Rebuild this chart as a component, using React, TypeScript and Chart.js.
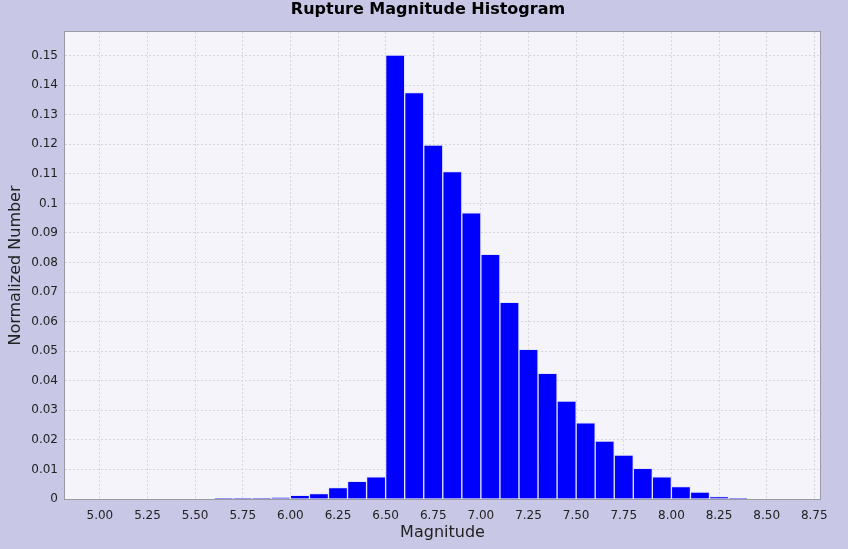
import React, { useEffect, useRef } from 'react';
import { Chart, registerables } from 'chart.js';

Chart.register(...registerables);

const chartTitle = 'Rupture Magnitude Histogram';
const xAxisLabel = 'Magnitude';
const yAxisLabel = 'Normalized Number';

const binCenters = [
  5.65, 5.75, 5.85, 5.95, 6.05, 6.15, 6.25, 6.35, 6.45, 6.55, 6.65, 6.75, 6.85, 6.95,
  7.05, 7.15, 7.25, 7.35, 7.45, 7.55, 7.65, 7.75, 7.85, 7.95, 8.05, 8.15, 8.25, 8.35,
];
const binValues = [
  0.0001, 0.0002, 0.0003, 0.0005, 0.0012, 0.0018, 0.0039, 0.006, 0.0075, 0.1502, 0.1375, 0.1197, 0.1108, 0.0968,
  0.0828, 0.0665, 0.0506, 0.0425, 0.0331, 0.0258, 0.0196, 0.0149, 0.0104, 0.0075, 0.0042, 0.0023, 0.0008, 0.0002,
];

const xTicks = [5.0, 5.25, 5.5, 5.75, 6.0, 6.25, 6.5, 6.75, 7.0, 7.25, 7.5, 7.75, 8.0, 8.25, 8.5, 8.75];
const yTicks = [0, 0.01, 0.02, 0.03, 0.04, 0.05, 0.06, 0.07, 0.08, 0.09, 0.1, 0.11, 0.12, 0.13, 0.14, 0.15];
const xRange = [4.817, 8.78];
const yRange = [0, 0.158];

const FONT = '"DejaVu Sans", Verdana, sans-serif';

export default function App() {
  const ref = useRef<HTMLCanvasElement>(null);

  useEffect(() => {
    if (!ref.current) return;
    const framePlugin = {
      id: 'frame',
      beforeDraw(chart: any) {
        const { ctx, chartArea: a, width, height } = chart;
        ctx.save();
        ctx.fillStyle = '#c8c8e6';
        ctx.fillRect(0, 0, width, height);
        ctx.fillStyle = '#f4f4fa';
        ctx.fillRect(a.left, a.top, a.right - a.left, a.bottom - a.top);
        ctx.restore();
      },
      afterDraw(chart: any) {
        const { ctx, chartArea: a } = chart;
        ctx.save();
        ctx.strokeStyle = '#9a9aa4';
        ctx.lineWidth = 1;
        ctx.strokeRect(Math.round(a.left) - 0.5, Math.round(a.top) - 0.5, Math.round(a.right - a.left) + 1, Math.round(a.bottom - a.top) + 1);
        ctx.fillStyle = '#000';
        ctx.font = 'bold 16px ' + FONT;
        ctx.textAlign = 'center';
        ctx.textBaseline = 'middle';
        ctx.fillText(chartTitle, 428, 10);
        ctx.restore();
      },
    };

    const chart = new Chart(ref.current, {
      type: 'bar',
      data: {
        datasets: [
          {
            data: binCenters.map((x, i) => ({ x, y: binValues[i] })),
            backgroundColor: '#0000ff',
            borderColor: 'rgba(225,225,255,0.9)',
            borderWidth: 1,
            barPercentage: 1,
            categoryPercentage: 1,
          },
        ],
      },
      options: {
        animation: false,
        responsive: false,
        maintainAspectRatio: false,
        layout: { padding: { top: 32, right: 28, left: 0, bottom: 0 } },
        plugins: {
          legend: { display: false },
          title: { display: false },
          tooltip: { enabled: false },
        },
        scales: {
          x: {
            type: 'linear',
            min: xRange[0],
            max: xRange[1],
            offset: false,
            grid: {
              offset: false,
              color: '#d6d6dc',
              lineWidth: 1,
              drawTicks: false,
            },
            border: { display: false, dash: [2, 2] },
            afterBuildTicks(scale: any) {
              scale.ticks = xTicks.map((v) => ({ value: v }));
            },
            afterFit(scale: any) {
              scale.height = 50;
            },
            ticks: {
              color: '#222',
              font: { family: FONT, size: 12 },
              padding: 10,
              maxRotation: 0,
              autoSkip: false,
              callback: (v: any) => Number(v).toFixed(2),
            },
            title: {
              display: true,
              text: xAxisLabel,
              color: '#222',
              font: { family: FONT, size: 16 },
              padding: { top: 0, bottom: 7 },
            },
          },
          y: {
            type: 'linear',
            min: yRange[0],
            max: yRange[1],
            grid: {
              color: '#d6d6dc',
              lineWidth: 1,
              drawTicks: false,
            },
            border: { display: false, dash: [2, 2] },
            afterBuildTicks(scale: any) {
              scale.ticks = yTicks.map((v) => ({ value: v }));
            },
            afterFit(scale: any) {
              scale.width = 65;
            },
            ticks: {
              color: '#222',
              font: { family: FONT, size: 12 },
              padding: 7,
              autoSkip: false,
              callback: (v: any) => String(Number(Number(v).toFixed(2))),
            },
            title: {
              display: true,
              text: yAxisLabel,
              color: '#222',
              font: { family: FONT, size: 16 },
              padding: { top: 6, bottom: 0 },
            },
          },
        },
      },
      plugins: [framePlugin],
    } as any);

    return () => chart.destroy();
  }, []);

  return (
    <div style={{ position: 'fixed', left: 0, top: 0, width: 848, height: 549, background: '#c8c8e6' }}>
      <canvas ref={ref} width={848} height={549} style={{ width: 848, height: 549, display: 'block' }} />
    </div>
  );
}
